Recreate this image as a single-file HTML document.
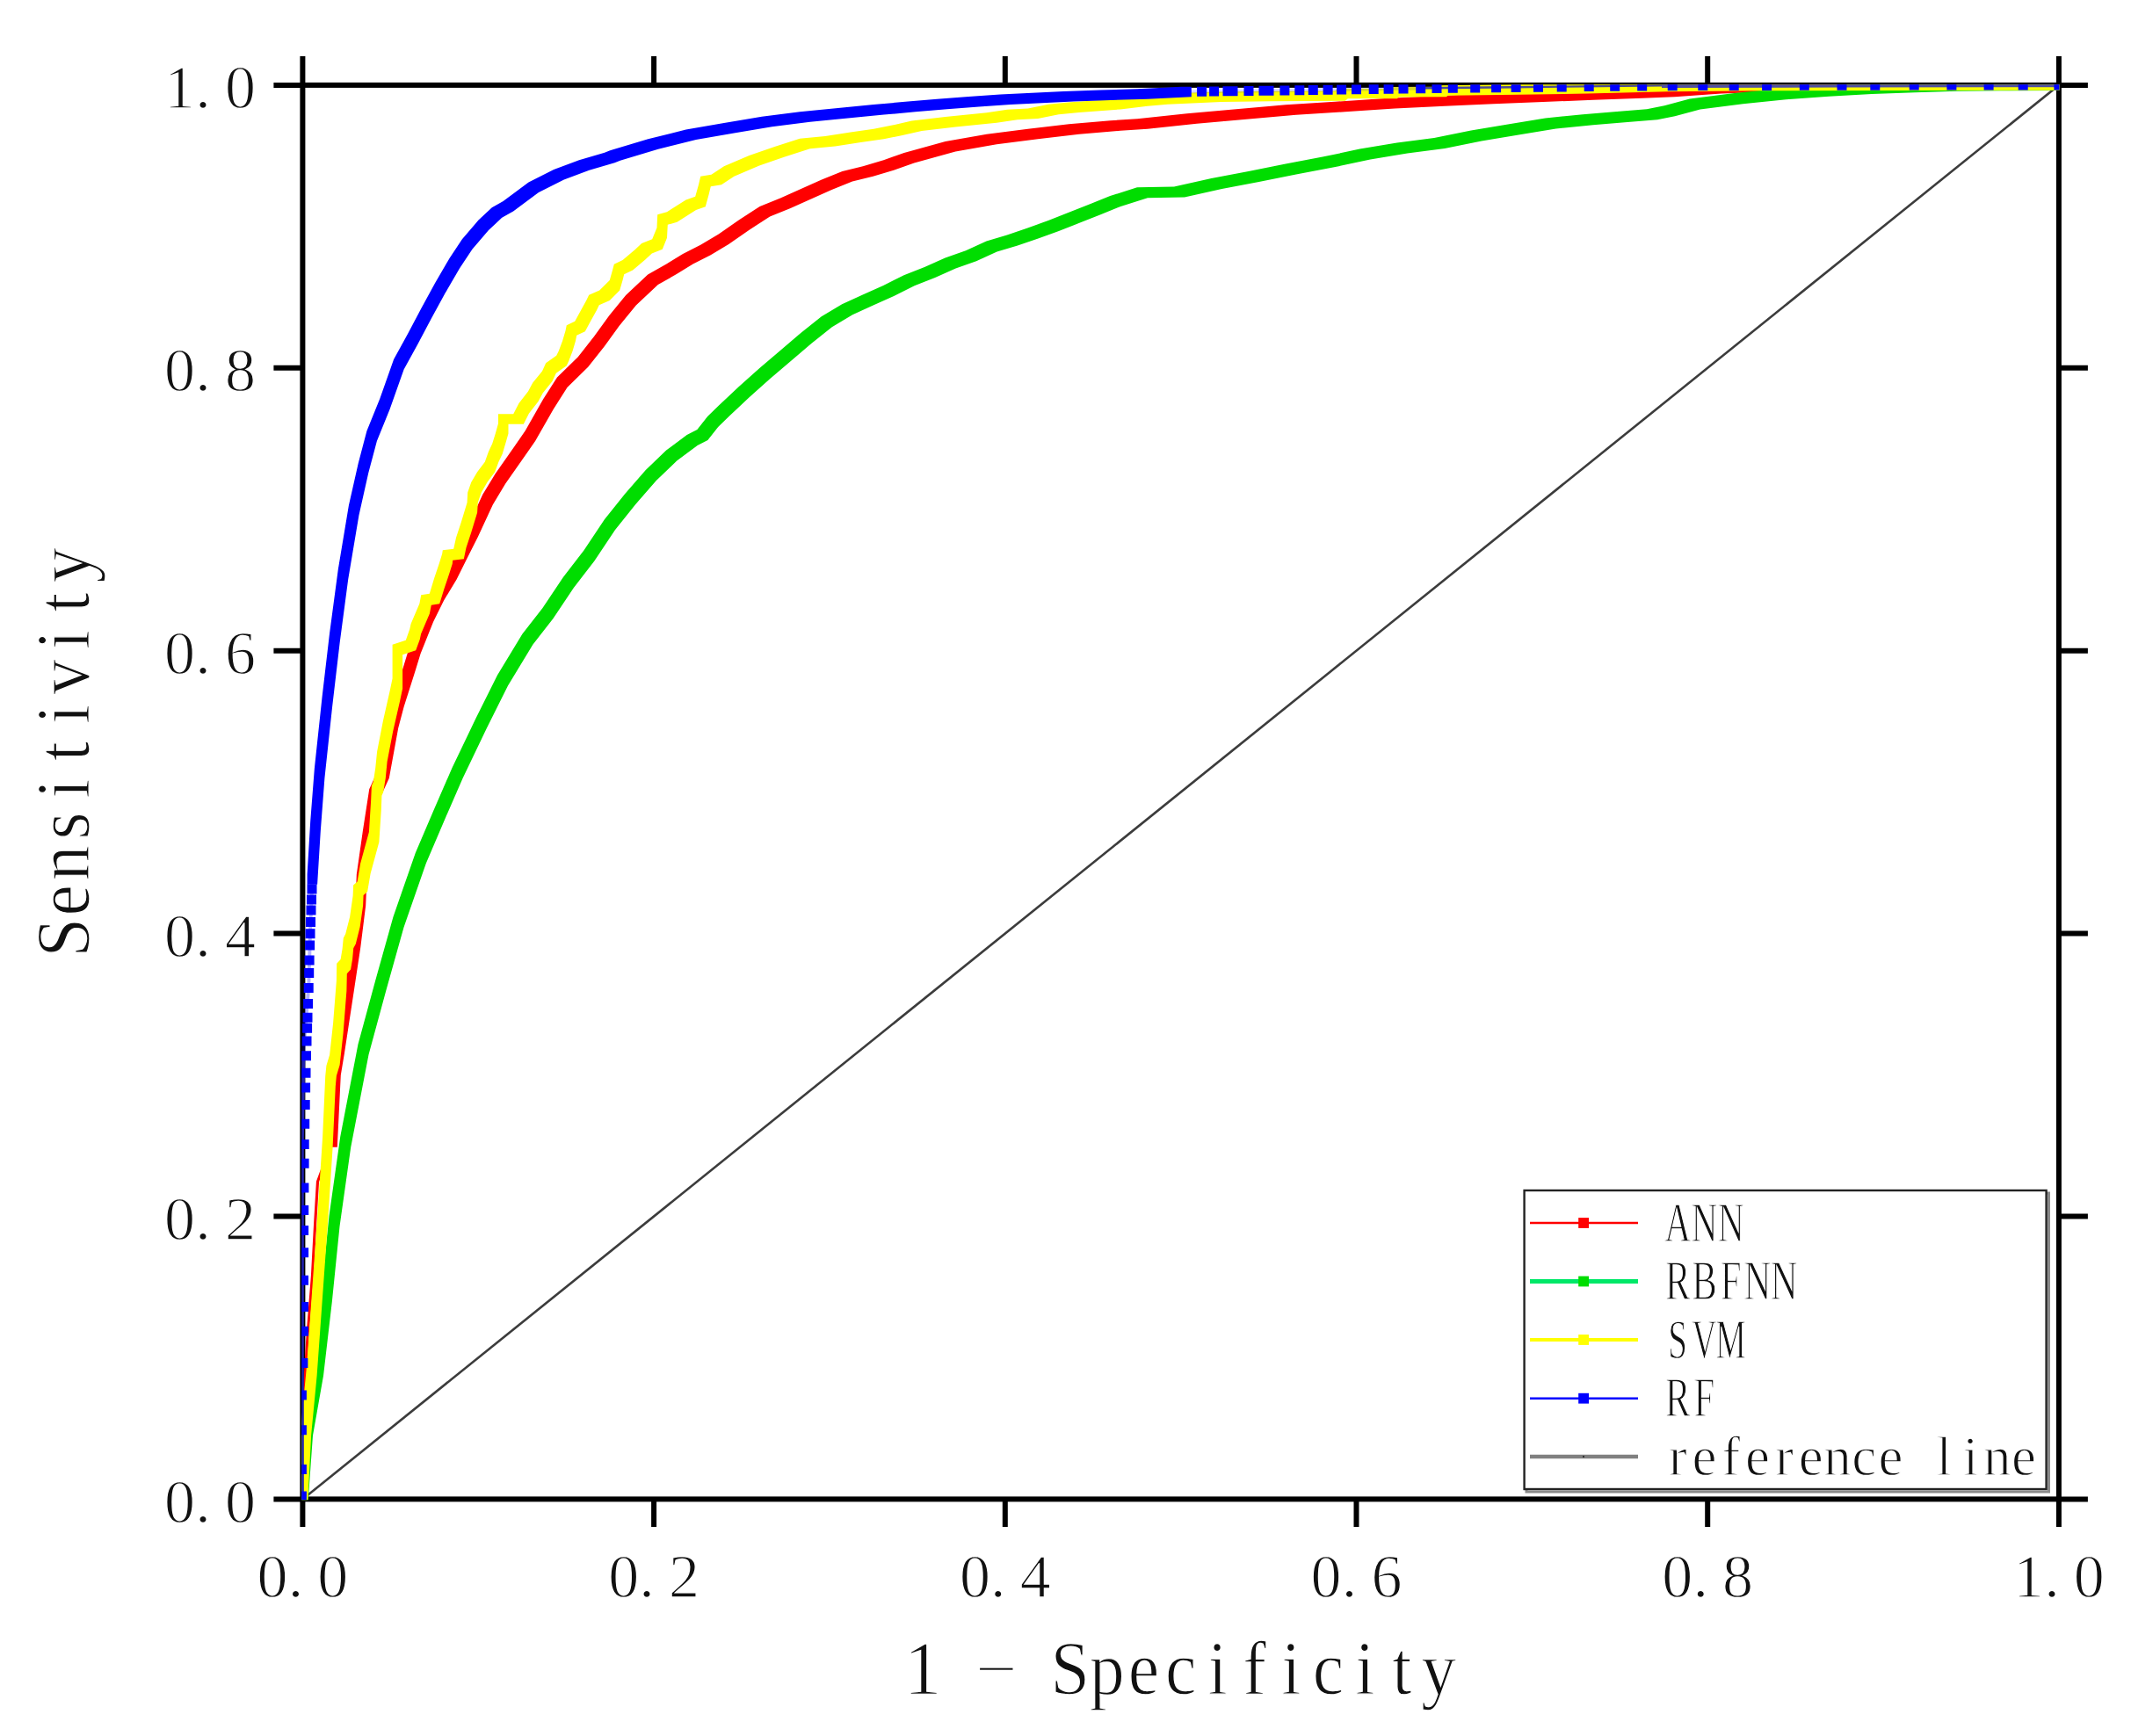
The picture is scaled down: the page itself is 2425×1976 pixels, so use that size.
<!DOCTYPE html>
<html lang="en"><head><meta charset="utf-8"><title>ROC curves</title>
<style>html,body{margin:0;padding:0;background:#fff}svg{display:block}text{font-family:"Liberation Serif",serif;fill:#111;stroke:#fff;stroke-width:1.3px}</style></head><body>
<svg width="2425" height="1976" viewBox="0 0 2425 1976">
<rect width="2425" height="1976" fill="#fff"/>
<defs><clipPath id="c"><rect x="343.3" y="96.2" width="2000.2" height="1611"/></clipPath></defs>
<g stroke="#000" stroke-width="6" fill="none" stroke-linecap="butt">
<rect x="344.4" y="96.9" width="1998.5" height="1609.5"/>
<path d="M344.4 1706.4V1737.9M344.4 96.9V63.9M344.4 1706.4H311.4M2342.9 1706.4H2375.9M744.1 1706.4V1737.9M744.1 96.9V63.9M344.4 1384.5H311.4M2342.9 1384.5H2375.9M1143.8 1706.4V1737.9M1143.8 96.9V63.9M344.4 1062.6H311.4M2342.9 1062.6H2375.9M1543.5 1706.4V1737.9M1543.5 96.9V63.9M344.4 740.7H311.4M2342.9 740.7H2375.9M1943.2 1706.4V1737.9M1943.2 96.9V63.9M344.4 418.8H311.4M2342.9 418.8H2375.9M2342.9 1706.4V1737.9M2342.9 96.9V63.9M344.4 96.9H311.4M2342.9 96.9H2375.9"/>
</g>
<g clip-path="url(#c)" fill="none" stroke-linejoin="round">
<line x1="344.4" y1="1706.4" x2="2342.9" y2="96.9" stroke="#3c3c3c" stroke-width="2.6"/>
<polyline points="344.4,1706.4 345.5,1640 346.2,1585 350.3,1517 355.5,1452 358.8,1390 361.5,1345 378,1300" stroke="#ff0000" stroke-width="3.2"/>
<polygon points="383.8,1305.8 372.2,1305.8 372.2,1294.2 376.2,1212.2 380.2,1188.2 391.2,1116.2 398.8,1067.2 404.8,1019.2 405.8,995.2 412.8,946.2 420.2,898.2 431.2,874.2 441.8,817.2 448.1,793 459.8,756.6 467.1,732.5 481.6,696.2 493.6,672 508.1,647.9 520.2,623.6 532.4,599.5 549.2,563.1 563.8,539 580.8,514.8 597.6,490.6 618.2,454.2 634,429.6 657.8,406.2 676.2,382.8 693.2,359.2 712.2,335.9 737.2,312.4 758.4,300.6 777.1,288.9 797.2,278.8 817.8,266.6 841.1,250.2 864.6,234.9 888.1,225.6 911.5,215.1 935,204.4 958.5,195.1 982,189.2 1005.5,182.2 1028.8,173.9 1075.8,161.1 1122.8,152.8 1169.7,146.8 1216.5,141.2 1263.5,137.2 1294.2,135.2 1350.5,129.2 1406.8,124.2 1463.2,119.2 1519.2,115.8 1575.8,112 1632.2,109.2 1688.2,106.8 1744.8,104.5 1801.2,102.2 1857.2,100.2 1894.2,98.8 1947.2,95 2008.2,92.8 2094.2,91.5 2337.2,91.2 2348.7,91.2 2348.7,102.7 2105.8,103 2019.8,104.2 1958.8,106.5 1905.8,110.2 1868.8,111.8 1812.8,113.8 1756.2,116 1699.8,118.2 1643.8,120.8 1587.2,123.5 1530.8,127.2 1474.8,130.8 1418.3,135.8 1362,140.8 1305.8,146.8 1275,148.8 1228,152.8 1181.2,158.2 1134.2,164.3 1087.3,172.6 1040.3,185.4 1017,193.7 993.5,200.8 970,206.6 946.5,215.9 923,226.6 899.6,237.1 876.1,246.4 852.6,261.8 829.2,278.1 808.8,290.2 788.6,300.4 769.9,312.1 748.8,323.9 723.8,347.4 704.8,370.8 687.8,394.2 669.2,417.8 645.5,441.1 629.8,465.8 609.1,502.1 592.2,526.2 575.2,550.5 560.8,574.6 543.9,611 531.8,635.1 519.6,659.4 505.1,683.5 493.1,707.8 478.6,744 471.2,768.1 459.6,804.5 453.2,828.8 442.8,885.8 431.8,909.8 424.2,957.8 417.2,1006.8 416.2,1030.8 410.2,1078.8 402.8,1127.8 391.8,1199.8 387.8,1223.8 383.8,1305.8" fill="#ff0000" stroke="none"/>
<polygon points="350.4,1712.4 338.4,1712.4 338.4,1700.4 344,1622 356,1554 365.9,1469 374.5,1384 387.2,1294 407.5,1188.5 427.2,1116 447.5,1043.4 472.8,970.8 493.4,922.4 514.5,874 541.8,817 566,768.5 594.5,721.5 617.5,692.1 640.9,656.9 664.4,626.4 687.9,591.2 711.3,561.9 734.8,534.9 758.2,512.6 781.7,495 793.4,489.1 805.2,473.9 817.5,462 840.9,440 864.4,418.9 887.9,399 911.3,379 934.8,360.2 958.2,346.2 981.7,335.6 1005.2,325 1028.6,313.3 1052.1,303.9 1075.6,293.4 1099,285.2 1122.5,274.6 1146,267.6 1169.4,259.4 1192.9,251.1 1216.3,241.8 1239.8,232.4 1263.3,223 1294,213.3 1336,212.6 1378.5,202.9 1420.7,195 1463,186.5 1505,178.6 1547.4,169.6 1589.6,162.6 1632,157 1674,148.5 1716,141.5 1758.5,134.4 1801,130.2 1843,126.8 1874,124.3 1894,120.2 1922.8,112.6 1971.6,106.2 2020.4,101.3 2069.2,97.7 2118,95.1 2166.8,93.2 2215.6,91.8 2264.4,91.2 2336.9,90.9 2348.9,90.9 2348.9,102.9 2276.4,103.2 2227.6,103.8 2178.8,105.2 2130,107.1 2081.2,109.7 2032.4,113.3 1983.6,118.2 1934.8,124.6 1906,132.2 1886,136.3 1855,138.8 1813,142.2 1770.5,146.4 1728,153.5 1686,160.5 1644,169 1601.6,174.6 1559.4,181.6 1517,190.6 1475,198.5 1432.7,207 1390.5,214.9 1348,224.6 1306,225.3 1275.3,235 1251.8,244.4 1228.3,253.8 1204.9,263.1 1181.4,271.4 1158,279.6 1134.5,286.6 1111,297.2 1087.6,305.4 1064.1,315.9 1040.6,325.3 1017.2,337 993.7,347.6 970.2,358.2 946.8,372.2 923.3,391 899.9,411 876.4,430.9 852.9,452 829.5,474 817.2,485.9 805.4,501.1 793.7,507 770.2,524.6 746.8,546.9 723.3,573.9 699.9,603.2 676.4,638.4 652.9,668.9 629.5,704.1 606.5,733.5 578,780.5 553.8,829 526.5,886 505.4,934.4 484.8,982.8 459.5,1055.4 439.2,1128 419.5,1200.5 399.2,1306 386.5,1396 377.9,1481 368,1566 356,1634 350.4,1712.4" fill="#00dd00" stroke="none"/>
<polygon points="350.1,1712.2 338.6,1712.2 338.6,1700.7 342.6,1622.2 349.1,1554.2 361.2,1384.2 367.1,1294.2 370.2,1225 371.4,1213 375.1,1200.8 379.1,1164.5 382.9,1116.2 383.2,1096.8 387.6,1092 389.6,1080 390.8,1067.8 393.2,1063 398.1,1043.7 401.6,1019.5 402.1,1007.4 406.6,1003.6 410.1,983.1 419.9,946.9 422.2,910.5 422.9,894.2 424.8,890.1 427.2,874.2 429.1,855.5 435.8,821 443.6,786.5 446.6,772.2 446.6,733.8 461.8,728.8 466.2,716.2 467.6,710.1 477.4,687 479.2,677.2 488.8,675.8 494.1,658.2 499.9,641 503.2,630.2 503.8,626.2 516.2,624.8 519,612.1 524.6,595 531.6,571.9 532.2,560.4 536.2,548.9 543.1,537.2 551.8,525.8 555.9,514.2 560.2,504.9 563.8,493.4 567,481.9 567,471.2 584.2,471.2 590.5,458.9 601,445.6 606.2,435.8 617,422.6 621.2,413.2 633.2,404.8 635.8,399.4 640.1,387.9 643.5,376.4 644.8,370.2 654.2,365.8 660.9,353.4 667.2,341.9 670.2,335.8 682.2,330.4 693.8,318.9 697.1,307.2 698.8,300.8 708.6,295.9 722.5,284.2 730.2,277.1 742.2,272.2 747.5,259.2 748.2,244.2 759,241.2 780.6,227.4 791.2,223.8 795,210.2 797.2,200.8 809.5,198.7 823.9,189.2 852.6,177.1 881.5,166.9 910.2,157.7 939,155.1 968,150.4 994.2,146.8 1014.2,142.8 1037.5,137.6 1075.8,132.9 1122.8,128.2 1146.2,124.7 1169.7,123.6 1193.2,118.8 1216.5,116.5 1263.5,113 1294.2,109.2 1317.2,107.2 1378.2,104.5 1434.2,103.8 1519.2,103.2 1522.2,100.8 1578.2,100.7 1580.2,99 1634.2,98.8 1636.2,97.2 1716.2,96.2 1794.2,95 1885.2,92.8 1994.2,91.8 2337.2,91.2 2348.7,91.2 2348.7,102.7 2005.8,103.2 1896.8,104.2 1805.8,106.5 1727.8,107.8 1647.8,108.7 1645.8,110.3 1591.8,110.5 1589.8,112.2 1533.8,112.3 1530.8,114.8 1445.8,115.3 1389.8,116 1328.8,118.8 1305.8,120.8 1275,124.5 1228,128 1204.7,130.3 1181.2,135.1 1157.8,136.2 1134.2,139.8 1087.3,144.4 1049,149.1 1025.8,154.2 1005.8,158.3 979.5,161.9 950.5,166.6 921.8,169.2 893,178.4 864.1,188.6 835.4,200.8 821,210.2 808.8,212.2 806.5,221.8 802.8,235.3 792.1,238.9 770.5,252.7 759.8,255.8 759,270.8 753.8,283.8 741.8,288.6 734,295.8 720.1,307.4 710.2,312.2 708.6,318.8 705.2,330.4 693.8,341.9 681.8,347.2 678.8,353.4 672.4,364.9 665.8,377.2 656.2,381.8 655,387.9 651.6,399.4 647.2,410.9 644.8,416.2 632.8,424.8 628.5,434.1 617.8,447.2 612.5,457.1 602,470.4 595.8,482.8 578.5,482.8 578.5,493.4 575.2,504.9 571.8,516.4 567.4,525.8 563.2,537.2 554.6,548.8 547.8,560.4 543.8,571.9 543.1,583.4 536.1,606.5 530.5,623.6 527.8,636.2 515.2,637.8 514.8,641.8 511.4,652.5 505.6,669.8 500.2,687.2 490.8,688.8 488.9,698.5 479.1,721.6 477.8,727.8 473.2,740.2 458.1,745.2 458.1,783.8 455.1,798 447.2,832.5 440.6,867 438.8,885.8 436.2,901.6 434.4,905.8 433.8,922 431.4,958.4 421.6,994.6 418.1,1015.1 413.6,1018.9 413.1,1031 409.6,1055.2 404.8,1074.5 402.2,1079.3 401.1,1091.5 399.1,1103.5 394.8,1108.3 394.4,1127.8 390.6,1176 386.6,1212.3 382.9,1224.5 381.8,1236.5 378.6,1305.8 372.8,1395.8 360.6,1565.8 354.1,1633.8 350.1,1712.2" fill="#ffff00" stroke="none"/>
<polyline points="1350,104.4 1440,103.2 1528,102.1 1620,100.6" stroke="#0000ff" stroke-opacity="0.16" stroke-width="4"/>
<polyline points="1620,100.3 1722,99.3 1891,97.4" stroke="#1010c0" stroke-opacity="0.75" stroke-width="2.4"/>
<polyline points="1891,97.7 2100,97.2 2342.9,96.9" stroke="#5050a0" stroke-width="4.6"/>
<polyline points="343.4,1706.4 343.4,1300 345,1200" stroke="#2020b0" stroke-width="4.8"/>
<polyline points="345,1200 351.3,1122 353,1061 355.4,1001" stroke="#0000ff" stroke-opacity="0.3" stroke-width="4"/>
<polygon points="361.1,1006.8 349.6,1006.8 349.6,995.2 353.2,934.8 357.9,874.2 366.6,793 375.1,720.5 384.8,647.9 396.9,575.2 407.8,526.9 417.4,490.6 432.1,454.2 448.1,409.1 463.9,380.2 479.1,351.4 494.9,322.6 511.5,293.9 525.9,272.2 544.5,250.6 559.8,236.2 572.6,229.1 601.5,207.4 630.2,193.1 659,182.2 688,173.7 694.2,171.3 737.5,158.3 780.6,147.6 823.9,139.9 867,132.8 910.2,127.3 953.5,123.1 994.2,119 1030.2,115.8 1066.2,112.7 1102.2,110 1138.2,107.5 1174.2,105.7 1210.2,104 1252.2,102.5 1294.2,101.2 1344.2,98.7 1355.8,98.7 1355.8,110.2 1305.8,112.7 1263.8,114 1221.8,115.5 1185.8,117.2 1149.8,119 1113.8,121.5 1077.8,124.2 1041.8,127.3 1005.8,130.6 965,134.6 921.8,138.8 878.5,144.2 835.4,151.4 792.1,159.1 749,169.8 705.8,182.8 699.5,185.2 670.5,193.8 641.8,204.6 613,218.9 584.1,240.6 571.2,247.8 556,262.1 537.4,283.8 523,305.4 506.4,334.1 490.6,362.9 475.4,391.8 459.6,420.6 443.6,465.8 428.9,502.1 419.2,538.4 408.4,586.8 396.2,659.4 386.6,732 378.1,804.5 369.4,885.8 364.8,946.2 361.1,1006.8" fill="#0000ff" stroke="none"/>
<path d="M1362.1 98.7h11v11h-11zM1376.1 98.5h11v11h-11zM1391.5 98.3h11v11h-11zM1397.5 98.2h11v11h-11zM1415.5 98h11v11h-11zM1432.5 97.7h11v11h-11zM1438.5 97.7h11v11h-11zM1456.4 97.4h11v11h-11zM1473.3 97.2h11v11h-11zM1488.8 97h11v11h-11zM1505.6 96.8h11v11h-11zM1521.1 96.6h11v11h-11zM1538 96.3h11v11h-11zM1557.7 96h11v11h-11zM1574.6 95.8h11v11h-11zM1591.5 95.5h11v11h-11zM1611.2 95.2h11v11h-11zM1629.5 95h11v11h-11zM1647.8 94.8h11v11h-11zM1673.2 94.5h11v11h-11zM1697.1 94.3h11v11h-11zM1719.6 94.1h11v11h-11zM1745 93.8h11v11h-11zM1771.7 93.5h11v11h-11zM1802.7 93.1h11v11h-11zM1832.2 92.8h11v11h-11zM1863.2 92.5h11v11h-11zM1897.7 92.2h11v11h-11zM1932.3 92.1h11v11h-11zM1967.7 92h11v11h-11zM2005.1 91.9h11v11h-11zM2047.8 91.8h11v11h-11zM2090.5 91.7h11v11h-11zM2128.3 91.7h11v11h-11zM2172.7 91.6h11v11h-11zM2215.4 91.6h11v11h-11zM2257.6 91.5h11v11h-11zM2296.7 91.5h11v11h-11zM2337.4 91.4h11v11h-11zM349.5 1006.4h11v11h-11zM349 1018.5h11v11h-11zM348.5 1030.5h11v11h-11zM348 1043.9h11v11h-11zM347.5 1057.2h11v11h-11zM347.1 1070.5h11v11h-11zM346.6 1087.4h11v11h-11zM346.2 1101.9h11v11h-11zM345.7 1118.9h11v11h-11zM345.1 1137h11v11h-11zM344.5 1152.7h11v11h-11zM344.1 1164.8h11v11h-11zM343.5 1179.4h11v11h-11zM343 1196.3h11v11h-11zM342.5 1215.7h11v11h-11zM342.1 1232.6h11v11h-11zM341.7 1251.9h11v11h-11zM341.2 1273.7h11v11h-11zM340.7 1296.9h11v11h-11zM340.6 1318.7h11v11h-11zM340.4 1346.5h11v11h-11zM340.2 1371.9h11v11h-11zM340.1 1394.9h11v11h-11zM340.1 1420.3h11v11h-11zM340 1451.8h11v11h-11zM340 1482h11v11h-11zM339.9 1509.8h11v11h-11zM339.4 1546.1h11v11h-11zM337.9 1582.4h11v11h-11zM337.9 1622.3h11v11h-11zM337.9 1667.1h11v11h-11zM337.9 1697.5h11v11h-11z" fill="#0000ff" stroke="none"/>
</g>
<text x="204.6 231 273.4" y="1732.7" font-size="70" text-anchor="middle">0.0</text>
<text x="204.6 231 273.4" y="1410.8" font-size="70" text-anchor="middle">0.2</text>
<text x="204.6 231 273.4" y="1088.9" font-size="70" text-anchor="middle">0.4</text>
<text x="204.6 231 273.4" y="767" font-size="70" text-anchor="middle">0.6</text>
<text x="204.6 231 273.4" y="445.1" font-size="70" text-anchor="middle">0.8</text>
<text x="204.6 231 273.4" y="123.2" font-size="70" text-anchor="middle">1.0</text>
<text x="310 336.4 378.8" y="1817.6" font-size="70" text-anchor="middle">0.0</text>
<text x="709.7 736.1 778.5" y="1817.6" font-size="70" text-anchor="middle">0.2</text>
<text x="1109.4 1135.8 1178.2" y="1817.6" font-size="70" text-anchor="middle">0.4</text>
<text x="1509.1 1535.5 1577.9" y="1817.6" font-size="70" text-anchor="middle">0.6</text>
<text x="1908.8 1935.2 1977.6" y="1817.6" font-size="70" text-anchor="middle">0.8</text>
<text x="2308.5 2334.9 2377.3" y="1817.6" font-size="70" text-anchor="middle">1.0</text>
<text x="1049.9" y="1927.8" font-size="86" text-anchor="middle">1</text>
<text transform="translate(1133.8 1907.5) scale(1.78 0.42)" x="0" y="0" font-size="86" text-anchor="middle">-</text>
<text transform="scale(0.930 1)" x="1309.4 1354.5 1399.6 1444.8 1489.9 1535 1580.1 1625.2 1670.3 1715.5 1760.6" y="1927.8" font-size="86" text-anchor="middle">Specificity</text>
<text transform="translate(101 1067.2) rotate(-90) scale(0.930 1)" x="0 45.6 91.2 136.8 182.4 228 273.5 319.1 364.7 410.3 455.9" y="0" font-size="86" text-anchor="middle">Sensitivity</text>
<rect x="1737" y="1358" width="594.5" height="340" fill="none" stroke="#8a8a8a" stroke-width="3"/>
<rect x="1734.6" y="1355" width="594" height="340" fill="#fff" stroke="#222" stroke-width="2.4"/>
<line x1="1741" y1="1392" x2="1864" y2="1392" stroke="#ff0000" stroke-width="2.6"/>
<rect x="1796.2" y="1386.1" width="11.8" height="11.8" fill="#ff0000"/>
<line x1="1741" y1="1458.5" x2="1864" y2="1458.5" stroke="#00e868" stroke-width="5"/>
<rect x="1796.2" y="1452.6" width="11.8" height="11.8" fill="#00dd00"/>
<line x1="1741" y1="1525" x2="1864" y2="1525" stroke="#ffff00" stroke-width="4"/>
<rect x="1796.2" y="1519.1" width="11.8" height="11.8" fill="#ffff00"/>
<line x1="1741" y1="1591.7" x2="1864" y2="1591.7" stroke="#0000ff" stroke-width="2.6"/>
<rect x="1796.2" y="1585.8" width="11.8" height="11.8" fill="#0000ff"/>
<line x1="1741" y1="1658" x2="1864" y2="1658" stroke="#808080" stroke-width="4.4"/>
<rect x="1801" y="1657" width="2" height="2" fill="#333"/>
<text transform="scale(0.660 1)" x="2892.7 2938.6 2984.5" y="1412.6" font-size="63" text-anchor="middle">ANN</text>
<text transform="scale(0.680 1)" x="2807.6 2852.1 2896.7 2941.2 2985.8" y="1479.1" font-size="63" text-anchor="middle">RBFNN</text>
<text transform="scale(0.620 1)" x="3079.3 3128.1 3177" y="1545.6" font-size="63" text-anchor="middle">SVM</text>
<text transform="scale(0.680 1)" x="2807.6 2852.1" y="1612.3" font-size="63" text-anchor="middle">RF</text>
<text x="1909.2 1939.5 1969.8 2000.1 2030.4 2060.7 2091 2121.2 2151.6 2181.8 2212.2 2242.5 2272.8 2303.1" y="1678.6" font-size="63" text-anchor="middle">reference line</text>
</svg></body></html>
